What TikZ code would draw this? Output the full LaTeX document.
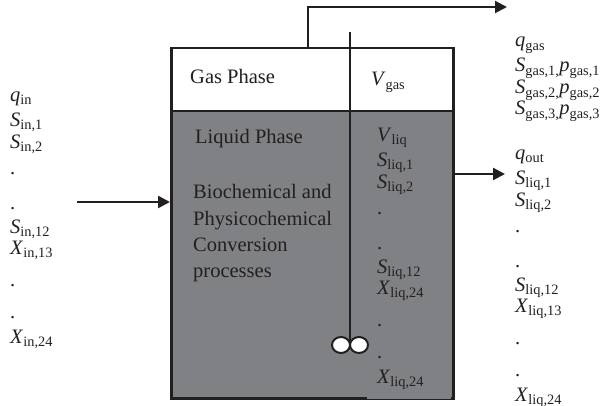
\documentclass[tikz,border=0pt]{standalone}
\usepackage{fontspec}
\setmainfont{Liberation Serif}
\usepackage{xcolor}
\usepackage{tikz}
\usetikzlibrary{arrows.meta, positioning, shapes.geometric}

\definecolor{ink}{RGB}{35,31,32}
\definecolor{liquid}{RGB}{128,129,133}
\newcommand{\varsub}[2]{\textit{#1}\textsubscript{#2}}

\begin{document}
\begin{tikzpicture}[
  x=1pt, y=-1pt,
  every node/.style={font=\fontsize{20.5}{22}\selectfont, text=ink, inner sep=0pt},
  phase/.style={draw=ink, line width=2.5pt, anchor=north west, minimum width=282pt},
  list/.style={anchor=base west, align=left},
  wall/.style={draw=ink, line width=2.5pt},
  arrow/.style={draw=ink, line width=2.5pt, -{Triangle[length=12pt, width=12pt]}},
  blade/.style={ellipse, draw=ink, fill=white, line width=2pt, minimum width=18pt, minimum height=16pt}
]
\useasboundingbox (0,0) rectangle (600,406);

% tank
\node[phase, fill=liquid, minimum height=287pt] (liq) at (170,110) {};
\node[phase, fill=white, minimum height=63pt] (gas) at (170,47) {};
\fill[liquid] (367,395) rectangle (450.7,398.5);
\coordinate (div) at (350,172);
\draw[wall] (gas.north -| div) -- (div);

% stirrer
\coordinate (shafttop) at (350,32);
\coordinate (hub) at (350,345);
\draw[draw=ink, line width=1.8pt] (shafttop) -- (hub);
\node[blade] (bladeL) at (341,345) {};
\node[blade] (bladeR) at (359,345) {};

% in and out
\coordinate (feed) at (77,202);
\coordinate (drain) at (505,174);
\coordinate (pipe) at (308,0);
\coordinate (gasout) at (507,7);
\draw[arrow] (feed) -- (feed -| liq.west);
\draw[arrow] (drain -| liq.east) -- (drain);
\draw[arrow, line width=2pt] (gas.north -| pipe) |- (gasout);

% labels (base anchor = last line)
\node[anchor=base west] (gaslbl) at (190,84) {Gas Phase};
\node[anchor=base west] (vgas) at (371,86) {\varsub{V}{gas}};
\node[anchor=base west] (liqlbl) at (195,144) {Liquid Phase};
\node[list, font=\fontsize{20.5}{26}\selectfont] (process) at (193,277)
  {Biochemical and\\Physicochemical\\Conversion\\processes};

\node[list] (inflow) at (10,343)
  {\varsub{q}{in}\\[3pt] \varsub{S}{in,1}\\ \varsub{S}{in,2}\\[4pt] .\\[13pt] .\\[2pt]
   \varsub{S}{in,12}\\[-1pt] \varsub{X}{in,13}\\[10pt] .\\[10pt] .\\[3pt] \varsub{X}{in,24}};
\node[list] (state) at (377,383)
  {\varsub{V}{liq}\\[3pt] \varsub{S}{liq,1}\\ \varsub{S}{liq,2}\\[4pt] .\\[13pt] .\\[2pt]
   \varsub{S}{liq,12}\\[-1pt] \varsub{X}{liq,24}\\[10pt] .\\[10pt] .\\[3pt] \varsub{X}{liq,24}};
\node[list] (gasflow) at (515,115)
  {\varsub{q}{gas}\\[3pt] \varsub{S}{gas,1,}\varsub{p}{gas,1}\\
   \varsub{S}{gas,2,}\varsub{p}{gas,2}\\[-1pt] \varsub{S}{gas,3,}\varsub{p}{gas,3}};
\node[list] (outflow) at (515,401)
  {\varsub{q}{out}\\[3pt] \varsub{S}{liq,1}\\ \varsub{S}{liq,2}\\[4pt] .\\[13pt] .\\[2pt]
   \varsub{S}{liq,12}\\[-1pt] \varsub{X}{liq,13}\\[10pt] .\\[10pt] .\\[3pt] \varsub{X}{liq,24}};
\end{tikzpicture}
\end{document}
